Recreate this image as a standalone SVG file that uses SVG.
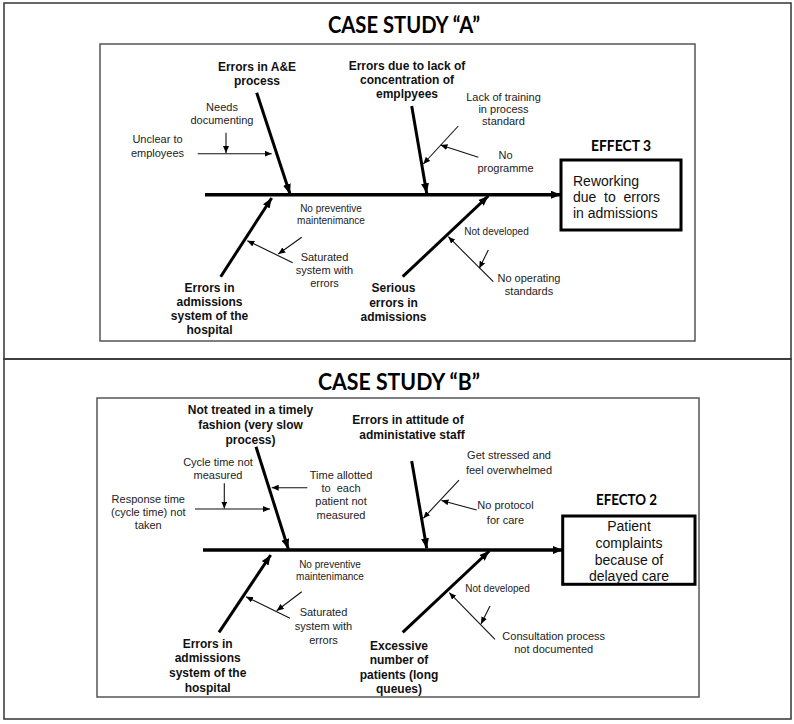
<svg xmlns="http://www.w3.org/2000/svg" width="794" height="724" viewBox="0 0 794 724">
<defs>
<marker id="big" markerUnits="userSpaceOnUse" markerWidth="10" markerHeight="8" refX="10" refY="4" orient="auto"><path d="M0,0 L10,4 L0,8 z" fill="#000"/></marker>
<marker id="sm" markerUnits="userSpaceOnUse" markerWidth="7" markerHeight="6" refX="7" refY="3" orient="auto"><path d="M0,0 L7,3 L0,6 z" fill="#000"/></marker>
<style>
.frame{fill:none;stroke:#333;stroke-width:1.5}
.inner{fill:none;stroke:#555;stroke-width:1.5}
.eff{fill:#fff;stroke:#000;stroke-width:3}
.spine{stroke:#000;stroke-width:3.5;fill:none;marker-end:url(#big)}
.bone{stroke:#000;stroke-width:3;fill:none;marker-end:url(#big)}
.thin{stroke:#111;stroke-width:1.1;fill:none;marker-end:url(#sm)}
.title{font-family:Lato,"Liberation Sans",sans-serif;font-weight:bold;font-size:22px;fill:#000;text-anchor:middle}
.etitle{font-family:Lato,"Liberation Sans",sans-serif;font-weight:bold;font-size:15px;fill:#000}
.cat{font-family:"Liberation Sans",Arial,sans-serif;font-weight:bold;font-size:12px;fill:#111;text-anchor:middle}
.lbl{font-family:"Liberation Sans",Arial,sans-serif;font-size:11px;fill:#222;text-anchor:middle}
.lbs{font-family:"Liberation Sans",Arial,sans-serif;font-size:10px;fill:#222;text-anchor:middle}
.et{font-family:"Liberation Sans",Arial,sans-serif;font-size:14px;fill:#111}
.pre{white-space:pre}
</style>
</defs>
<rect width="794" height="724" fill="#fff"/>

<g id="panel-a">
<rect class="frame" x="4" y="3" width="787" height="356"/>
<rect class="inner" x="100" y="44" width="595" height="297"/>
<text class="title" x="404" y="33" textLength="152" lengthAdjust="spacingAndGlyphs">CASE STUDY “A”</text>
</g>

<g id="panel-b">
<rect class="frame" x="4" y="359" width="787" height="360"/>
<rect class="inner" x="97" y="398" width="602" height="299"/>
<text class="title" x="399" y="390" textLength="162" lengthAdjust="spacingAndGlyphs">CASE STUDY “B”</text>
</g>

<g id="connectors">
<line class="spine" x1="205" y1="194.7" x2="561" y2="194.7"/>
<line class="bone" x1="256.7" y1="92.7" x2="290" y2="194"/>
<line class="bone" x1="411.7" y1="106" x2="426.7" y2="193.3"/>
<line class="bone" x1="220.7" y1="276.7" x2="271.7" y2="198"/>
<line class="bone" x1="402.7" y1="276.7" x2="488.3" y2="196"/>
<line class="thin" x1="226" y1="132.7" x2="226" y2="153"/>
<line class="thin" x1="197.7" y1="153.7" x2="271.7" y2="153.7"/>
<line class="thin" x1="458.3" y1="126" x2="423.3" y2="164"/>
<line class="thin" x1="478.3" y1="157.3" x2="440.5" y2="145"/>
<line class="thin" x1="301.7" y1="237.3" x2="278.3" y2="254"/>
<line class="thin" x1="292.7" y1="262.7" x2="247.3" y2="240.7"/>
<line class="thin" x1="493.3" y1="281.7" x2="448.3" y2="236.7"/>
<line class="thin" x1="488.3" y1="250" x2="479.3" y2="268.3"/>

<line class="spine" x1="203" y1="550" x2="562.7" y2="550"/>
<line class="bone" x1="256" y1="446.7" x2="288.3" y2="549"/>
<line class="bone" x1="411.7" y1="461" x2="426.7" y2="548.3"/>
<line class="bone" x1="219" y1="632.3" x2="270.7" y2="555"/>
<line class="bone" x1="402.7" y1="632.3" x2="489.3" y2="551"/>
<line class="thin" x1="224.3" y1="483.3" x2="224.3" y2="508.5"/>
<line class="thin" x1="195" y1="509" x2="270" y2="509"/>
<line class="thin" x1="307.3" y1="487.7" x2="271.7" y2="487.7"/>
<line class="thin" x1="459" y1="480" x2="423.3" y2="518.3"/>
<line class="thin" x1="476.7" y1="510" x2="441.5" y2="500.5"/>
<line class="thin" x1="301.7" y1="591.7" x2="276.7" y2="610.7"/>
<line class="thin" x1="290" y1="618.3" x2="246" y2="596.7"/>
<line class="thin" x1="495" y1="639.3" x2="449.3" y2="592.7"/>
<line class="thin" x1="490" y1="606" x2="481" y2="624"/>
</g>

<g id="effect-a">
<text class="etitle" x="591" y="151" textLength="60" lengthAdjust="spacingAndGlyphs">EFFECT 3</text>
<rect class="eff" x="561" y="160" width="120" height="70"/>
<text class="et" x="573" y="186">Reworking</text>
<text class="et pre" x="573" y="202" textLength="87" lengthAdjust="spacing">due  to  errors</text>
<text class="et" x="573" y="218">in admissions</text>
</g>

<g id="cat-a1">
<text class="cat" x="257" y="71">Errors in A&amp;E</text>
<text class="cat" x="257" y="85">process</text>
</g>
<g id="cat-a2">
<text class="cat" x="407" y="70">Errors due to lack of</text>
<text class="cat" x="407" y="84">concentration of</text>
<text class="cat" x="407" y="98">emplpyees</text>
</g>
<g id="cat-a3">
<text class="cat" x="209.5" y="292">Errors in</text>
<text class="cat" x="209.5" y="306">admissions</text>
<text class="cat" x="209.5" y="320">system of the</text>
<text class="cat" x="209.5" y="334">hospital</text>
</g>
<g id="cat-a4">
<text class="cat" x="393.5" y="292">Serious</text>
<text class="cat" x="393.5" y="306.5">errors in</text>
<text class="cat" x="393.5" y="321">admissions</text>
</g>
<g id="causes-a">
<text class="lbl" x="222" y="111">Needs</text>
<text class="lbl" x="222" y="124">documenting</text>
<text class="lbl" x="157.5" y="143">Unclear to</text>
<text class="lbl" x="157.5" y="157">employees</text>
<text class="lbl" x="503.5" y="101">Lack of training</text>
<text class="lbl" x="503.5" y="113">in process</text>
<text class="lbl" x="503.5" y="125">standard</text>
<text class="lbl" x="505.5" y="158.5">No</text>
<text class="lbl" x="505.5" y="172">programme</text>
<text class="lbs" x="331" y="212">No preventive</text>
<text class="lbs" x="331" y="224">maintenimance</text>
<text class="lbl" x="324.5" y="261">Saturated</text>
<text class="lbl" x="324.5" y="274">system with</text>
<text class="lbl" x="324.5" y="287">errors</text>
<text class="lbs" x="496.5" y="235">Not developed</text>
<text class="lbl" x="529" y="282">No operating</text>
<text class="lbl" x="529" y="295">standards</text>
</g>

<g id="effect-b">
<text class="etitle" x="596" y="505" textLength="61" lengthAdjust="spacingAndGlyphs">EFECTO 2</text>
<rect class="eff" x="562.7" y="516" width="132.3" height="68.3"/>
<text class="et" x="629" y="531" text-anchor="middle">Patient</text>
<text class="et" x="629" y="547.5" text-anchor="middle">complaints</text>
<text class="et" x="629" y="564.5" text-anchor="middle">because of</text>
<text class="et" x="629" y="581" text-anchor="middle">delayed care</text>
</g>

<g id="cat-b1">
<text class="cat" x="250.5" y="413.5">Not treated in a timely</text>
<text class="cat" x="250.5" y="428.5">fashion (very slow</text>
<text class="cat" x="250.5" y="443.5">process)</text>
</g>
<g id="cat-b2">
<text class="cat" x="408" y="423.5">Errors in attitude of</text>
<text class="cat" x="412" y="438.5">administative staff</text>
</g>
<g id="cat-b3">
<text class="cat" x="207.7" y="647.5">Errors in</text>
<text class="cat" x="207.7" y="662">admissions</text>
<text class="cat" x="207.7" y="677">system of the</text>
<text class="cat" x="207.7" y="692">hospital</text>
</g>
<g id="cat-b4">
<text class="cat" x="399" y="649.5">Excessive</text>
<text class="cat" x="399" y="663.5">number of</text>
<text class="cat" x="399" y="678.5">patients (long</text>
<text class="cat" x="399" y="693">queues)</text>
</g>
<g id="causes-b">
<text class="lbl" x="218" y="466">Cycle time not</text>
<text class="lbl" x="218" y="478.5">measured</text>
<text class="lbl" x="148.3" y="503">Response time</text>
<text class="lbl" x="148.3" y="516">(cycle time) not</text>
<text class="lbl" x="148.3" y="529">taken</text>
<text class="lbl" x="341" y="478.5">Time allotted</text>
<text class="lbl pre" x="341" y="492">to  each</text>
<text class="lbl" x="341" y="505">patient not</text>
<text class="lbl" x="341" y="518.5">measured</text>
<text class="lbl" x="509" y="458.5">Get stressed and</text>
<text class="lbl" x="509" y="474">feel overwhelmed</text>
<text class="lbl" x="505.5" y="509">No protocol</text>
<text class="lbl" x="505.5" y="523.5">for care</text>
<text class="lbs" x="330" y="567.5">No preventive</text>
<text class="lbs" x="330" y="579.5">maintenimance</text>
<text class="lbl" x="323.5" y="616">Saturated</text>
<text class="lbl" x="323.5" y="630">system with</text>
<text class="lbl" x="323.5" y="643.5">errors</text>
<text class="lbs" x="497.5" y="592">Not developed</text>
<text class="lbl" x="553.7" y="639.5">Consultation process</text>
<text class="lbl" x="553.7" y="653">not documented</text>
</g>
</svg>
